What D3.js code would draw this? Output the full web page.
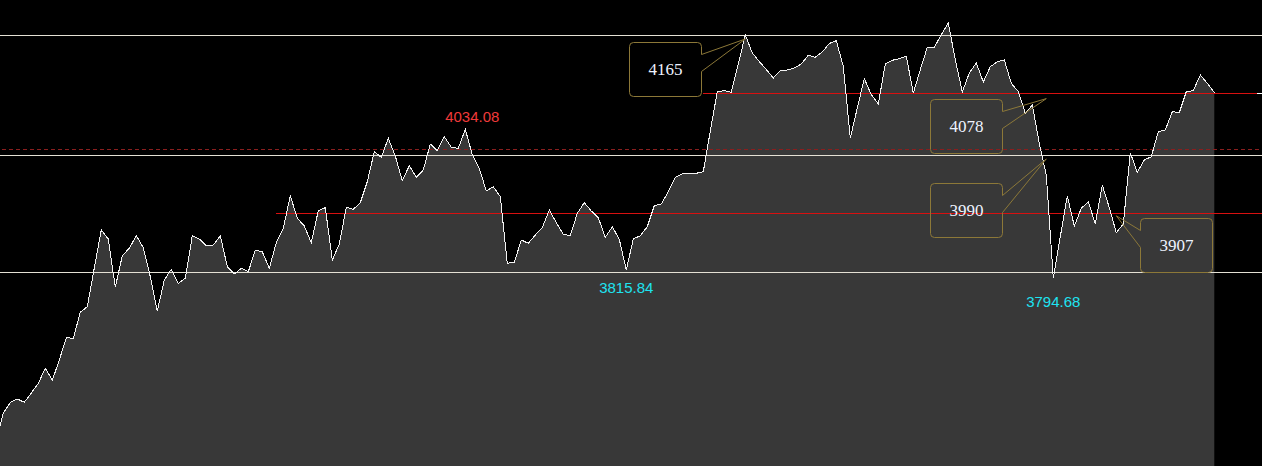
<!DOCTYPE html>
<html>
<head>
<meta charset="utf-8">
<script src="https://cdn.jsdelivr.net/npm/d3@7"></script>
<style>
html, body { margin: 0; padding: 0; background: #000; overflow: hidden; }
</style>
</head>
<body>
<div id="chart"></div>
<script>
// one close per bar
var prices = [
    3573.9, 3613.3, 3628.7, 3633.8, 3629.0, 3642.5, 3656.7, 3678.6, 3661.1, 3690.7,
    3723.2, 3722.4, 3760.3, 3768.5, 3825.0, 3880.4, 3867.3, 3796.8, 3842.9, 3853.7,
    3872.1, 3854.6, 3812.3, 3762.2, 3807.4, 3823.1, 3802.6, 3809.9, 3872.1, 3867.3,
    3857.1, 3858.5, 3872.1, 3826.9, 3816.2, 3824.5, 3819.6, 3850.8, 3848.7, 3824.5,
    3861.9, 3882.9, 3930.5, 3897.5, 3886.3, 3861.9, 3908.6, 3913.0, 3836.6, 3860.0,
    3913.5, 3910.6, 3920.3, 3950.9, 3994.7, 3986.5, 4014.2, 3988.4, 3952.4, 3974.3,
    3957.3, 3968.0, 4005.9, 3996.1, 4016.6, 4001.1, 3999.6, 4027.4, 3989.9, 3970.5,
    3937.3, 3943.6, 3929.0, 3831.8, 3833.3, 3865.8, 3861.0, 3873.1, 3883.8, 3909.6,
    3891.1, 3874.1, 3872.1, 3904.8, 3920.3, 3908.1, 3898.4, 3869.8, 3885.2, 3866.8,
    3822.0, 3867.3, 3872.1, 3885.2, 3915.9, 3918.4, 3936.3, 3957.3, 3962.1, 3963.2,
    3963.2, 3965.5, 4024.9, 4082.3, 4083.7, 4081.4, 4122.7, 4165.0, 4138.7, 4126.3,
    4114.7, 4102.2, 4113.2, 4113.9, 4116.8, 4122.7, 4135.4, 4132.5, 4140.2, 4152.6,
    4156.7, 4119.3, 4014.7, 4058.5, 4101.2, 4077.9, 4064.3, 4122.7, 4128.1, 4130.4,
    4133.9, 4080.4, 4114.4, 4147.0, 4147.0, 4165.4, 4182.5, 4129.0, 4081.8, 4109.5,
    4124.1, 4096.4, 4118.7, 4126.0, 4128.5, 4094.5, 4082.3, 4050.7, 4062.8, 4006.9,
    3960.7, 3809.9, 3870.6, 3930.0, 3886.3, 3912.1, 3921.7, 3889.2, 3946.1, 3913.0,
    3876.5, 3889.2, 3993.2, 3964.6, 3982.6, 3987.4, 4023.9, 4026.4, 4053.1, 4051.6,
    4082.3, 4083.7, 4106.6, 4094.5, 4080.8
];

// horizontal levels
var whiteLevels = [4165, 3990, 3819.4];
var redLevels = [4080.4, 3904.8];
var redLevelFrom = [101, 40];   // bar index where each red level starts
var dashedLevel = 3998.6;

// high / low marks
var extremeValues = [4034.08, 3815.84, 3794.68];
var extremeIndex = [68, 90, 151];
var extremeKind = ["high", "low", "low"];

// callout boxes
var calloutValues = [4165, 4078, 3990, 3907];
var calloutIndex = [107, 150, 150, 160];

// ---- layout ----
var width = 1262, height = 466;
var calloutOffsets = [[-80, 30], [-80, 27], [-80, 51], [60, 29.5]];
var boxW = 72, boxH = 54, radius = 4;

var svg = d3.select("#chart").append("svg")
    .attr("width", width)
    .attr("height", height)
    .style("display", "block")
    .style("background", "#000");

var x = d3.scaleLinear().domain([0, prices.length - 1]).range([-3.7, 1214.3]);
var y = d3.scaleLinear().domain([3536, 4165]).range([height, 35]);

function crisp(v) { return Math.round(v) + 0.5; }

// filled area under the price
var area = d3.area()
    .x(function (d, i) { return x(i); })
    .y0(height)
    .y1(function (d) { return y(d); });
svg.append("path").datum(prices)
    .attr("d", area)
    .attr("fill", "#383838");

// levels
svg.append("line")
    .attr("x1", 2).attr("x2", width)
    .attr("y1", crisp(y(dashedLevel))).attr("y2", crisp(y(dashedLevel)))
    .attr("stroke", "#8a1e1e")
    .attr("stroke-dasharray", "4,3")
    .attr("shape-rendering", "crispEdges");

svg.selectAll("line.white").data(whiteLevels).enter().append("line")
    .attr("class", "white")
    .attr("x1", 0).attr("x2", width)
    .attr("y1", function (d) { return crisp(y(d)); })
    .attr("y2", function (d) { return crisp(y(d)); })
    .attr("stroke", "#e4e0d4")
    .attr("shape-rendering", "crispEdges");

svg.selectAll("line.red").data(redLevels).enter().append("line")
    .attr("class", "red")
    .attr("x1", function (d, i) { return x(redLevelFrom[i]); })
    .attr("x2", width)
    .attr("y1", function (d) { return crisp(y(d)); })
    .attr("y2", function (d) { return crisp(y(d)); })
    .attr("stroke", "#d81010")
    .attr("shape-rendering", "crispEdges");

// price line
var line = d3.line()
    .x(function (d, i) { return x(i); })
    .y(function (d) { return y(d); });
svg.append("path").datum(prices)
    .attr("d", line)
    .attr("fill", "none")
    .attr("stroke", "#f4f4f4")
    .attr("stroke-width", 1)
    .attr("shape-rendering", "crispEdges");

// last price tick on the right edge
var last = prices[prices.length - 1];
svg.append("line")
    .attr("x1", width - 5).attr("x2", width)
    .attr("y1", crisp(y(last))).attr("y2", crisp(y(last)))
    .attr("stroke", "#ffffff")
    .attr("shape-rendering", "crispEdges");

// high / low labels
svg.selectAll("text.extreme").data(extremeValues).enter().append("text")
    .attr("class", "extreme")
    .attr("x", function (d, i) { return x(extremeIndex[i]); })
    .attr("y", function (d, i) { return extremeKind[i] == "high" ? y(d) - 3 : y(d) + 18.5; })
    .attr("text-anchor", "middle")
    .style("font-family", "'Liberation Sans', Arial, sans-serif")
    .style("font-size", "15px")
    .attr("fill", function (d, i) { return extremeKind[i] == "high" ? "#f03a3a" : "#1ee3f0"; })
    .text(function (d) { return d.toFixed(2); });

// callouts
calloutValues.forEach(function (v, k) {
    var tx = x(calloutIndex[k]), ty = y(v) + 4;
    var cx = tx + calloutOffsets[k][0], cy = ty + calloutOffsets[k][1];
    var left = crisp(cx - boxW / 2), top = crisp(cy - boxH / 2);
    var right = left + boxW, bottom = top + boxH;
    var r = radius;
    var p = d3.path();
    p.moveTo(left + r, top);
    p.lineTo(right - r, top);
    p.arcTo(right, top, right, top + r, r);
    if (tx > right) {
        p.lineTo(right, top + 12);
        p.lineTo(tx, ty);
        p.lineTo(right, top + 29);
    }
    p.lineTo(right, bottom - r);
    p.arcTo(right, bottom, right - r, bottom, r);
    p.lineTo(left + r, bottom);
    p.arcTo(left, bottom, left, bottom - r, r);
    if (tx < left) {
        p.lineTo(left, top + 29);
        p.lineTo(tx, ty);
        p.lineTo(left, top + 12);
    }
    p.lineTo(left, top + r);
    p.arcTo(left, top, left + r, top, r);
    p.closePath();

    svg.append("path")
        .attr("d", p.toString())
        .attr("fill", "none")
        .attr("stroke", "#8c7838")
        .attr("stroke-width", 1);

    svg.append("text")
        .attr("x", (left + right) / 2)
        .attr("y", (top + bottom) / 2)
        .attr("text-anchor", "middle")
        .attr("dominant-baseline", "central")
        .style("font-family", "'Liberation Serif', 'Times New Roman', serif")
        .style("font-size", "17px")
        .attr("fill", "#eef3ff")
        .text(v);
});
</script>
</body>
</html>
